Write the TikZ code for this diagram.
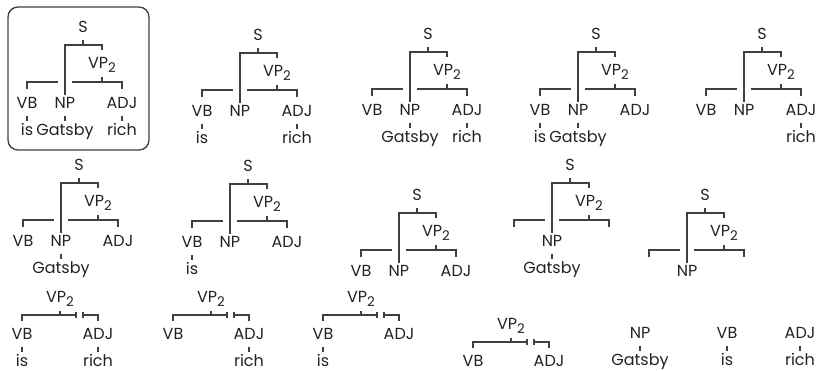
\documentclass[tikz,border=0pt]{standalone}
\usepackage{fontspec}
\setmainfont{Poppins}
\usetikzlibrary{calc}
\definecolor{ink}{HTML}{222222}
\definecolor{linec}{HTML}{404040}
\newcommand\subtwo{\raisebox{-0.28em}{\fontsize{10}{11}\selectfont 2}}
\tikzset{
  lab/.style={anchor=base, inner sep=0pt, text=ink, font=\fontsize{12}{14}\selectfont},
  br/.style={draw=linec, line width=0.9pt},
  pics/stree/.style 2 args={code={
    \node[lab] (-S) at (0,5.5) {S};
    \node[lab] (-VP) at (19,41) {VP\subtwo};
    \node[lab] (-VB) at (-56,81.5) {#1};
    \node[lab] (-NP) at (-18,81.5) {NP};
    \node[lab] (-ADJ) at (39,81.5) {#2};
    \draw[br] (0,13) -- (0,18);
    \draw[br] (-18,68) -- (-18,18) -- (19,18) -- (19,23);
    \draw[br] (19,50) -- (19,55);
    \draw[br] (-11,55) -- (39,55) -- (39,62);
    \draw[br] (-56,62) -- (-56,55) -- (-25,55);
  }},
  pics/vtree/.style={code={
    \node[lab] (-VP) at (38,-31.5) {VP\subtwo};
    \node[lab] (-VB) at (0,5.5) {VB};
    \node[lab] (-ADJ) at (76,5.5) {ADJ};
    \draw[br] (38,-23) -- (38,-19);
    \draw[br] (0,-13) -- (0,-19) -- (54,-19);
    \draw[br] (54,-22) -- (54,-16);
    \draw[br] (61,-22) -- (61,-16);
    \draw[br] (61,-19) -- (76,-19) -- (76,-13);
  }},
}
\newcommand\tword[3]{%
  \node[lab] (#2) at ($(#1.base)+(0,27)$) {#3};
  \draw[br] ($(#1.base)+(0,7)$) -- ($(#1.base)+(0,12)$);}
\begin{document}
\begin{tikzpicture}[x=0.75pt,y=-0.75pt]
\useasboundingbox (0,0) rectangle (817,371);
% boxed tree
\draw[linec, line width=1pt, rounded corners=7.5pt] (8,7) rectangle (149,150);
\pic (t1) at (83,27) {stree={VB}{ADJ}};
\tword{t1-VB}{t1w1}{is}
\tword{t1-NP}{t1w2}{Gatsby}
\tword{t1-ADJ}{t1w3}{rich}
% row 1
\pic (t2) at (258,35) {stree={VB}{ADJ}};
\tword{t2-VB}{t2w1}{is}
\tword{t2-ADJ}{t2w3}{rich}
\pic (t3) at (428,34) {stree={VB}{ADJ}};
\tword{t3-NP}{t3w2}{Gatsby}
\tword{t3-ADJ}{t3w3}{rich}
\pic (t4) at (596,34) {stree={VB}{ADJ}};
\tword{t4-VB}{t4w1}{is}
\tword{t4-NP}{t4w2}{Gatsby}
\pic (t5) at (762,34) {stree={VB}{ADJ}};
\tword{t5-ADJ}{t5w3}{rich}
% row 2
\pic (u1) at (79,165) {stree={VB}{ADJ}};
\tword{u1-NP}{u1w2}{Gatsby}
\pic (u2) at (248,166) {stree={VB}{ADJ}};
\tword{u2-VB}{u2w1}{is}
\pic (u3) at (417,195) {stree={VB}{ADJ}};
\pic (u4) at (570,165) {stree={}{}};
\tword{u4-NP}{u4w2}{Gatsby}
\pic (u5) at (705,195) {stree={}{}};
% row 3
\pic (v1) at (22,334) {vtree};
\tword{v1-VB}{v1w1}{is}
\tword{v1-ADJ}{v1w3}{rich}
\pic (v2) at (173,334) {vtree};
\tword{v2-ADJ}{v2w3}{rich}
\pic (v3) at (323,334) {vtree};
\tword{v3-VB}{v3w1}{is}
\pic (v4) at (473,361) {vtree};
% single nodes
\node[lab] (sNP) at (640,338.5) {NP};
\tword{sNP}{sG}{Gatsby}
\node[lab] (sVB) at (727,338.5) {VB};
\tword{sVB}{sI}{is}
\node[lab] (sADJ) at (800,338.5) {ADJ};
\tword{sADJ}{sR}{rich}
\end{tikzpicture}
\end{document}
